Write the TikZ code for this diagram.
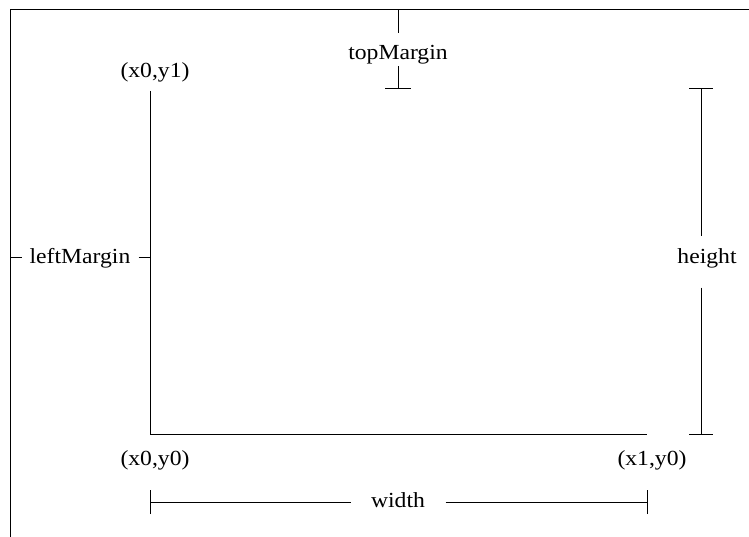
\documentclass[tikz,border=0pt]{standalone}
\usepackage{fontspec}
\setmainfont[FakeStretch=1.1]{Liberation Serif}
\usetikzlibrary{positioning,calc}

\begin{document}
\begin{tikzpicture}[x=1pt, y=-1pt, line width=1pt,
    lbl/.style={inner sep=0pt, anchor=base, font=\fontsize{21.5}{26}\selectfont}]
    \useasboundingbox (0,0) rectangle (749,537);

    % Page edge
    \coordinate (pageTL) at (10,10);
    \coordinate (pageTR) at (749,10);
    \coordinate (pageBL) at (10,537);
    \draw (pageTR) -- (pageTL) -- (pageBL);

    % Plot area axes
    \coordinate (yTop) at (150,91);
    \coordinate (origin) at (150,434);
    \coordinate (xEnd) at (647,434);
    \draw (yTop) -- (origin) -- (xEnd);
    \node[lbl] (x0y1) at (155,78) {(x0,y1)};
    \node[lbl] (x0y0) at (155,465) {(x0,y0)};
    \node[lbl] (x1y0) at (652,465) {(x1,y0)};

    % topMargin
    \coordinate (tmTop) at (398,10);
    \coordinate (tmBot) at (398,89);
    \node[lbl, text height=26pt, text depth=6pt] (topM) at (398,60) {topMargin};
    \draw (tmTop) -- (tmTop |- topM.north);
    \draw (tmTop |- topM.south) -- (tmBot);
    \draw ([xshift=-13pt]tmBot) -- ([xshift=13pt]tmBot);

    % leftMargin
    \coordinate (lmL) at (10,258);
    \coordinate (lmR) at (150,258);
    \node[lbl, minimum width=116pt] (leftM) at (80,264) {leftMargin};
    \draw (lmL) -- (lmL -| leftM.west);
    \draw (leftM.east |- lmR) -- (lmR);

    % height
    \coordinate (hTop) at (701,89);
    \coordinate (hBot) at (701,434);
    \node[lbl, text height=27pt, text depth=23pt] (hgt) at (707,264) {height};
    \draw (hTop) -- (hTop |- hgt.north);
    \draw (hTop |- hgt.south) -- (hBot);
    \draw ([xshift=-12pt]hTop) -- ([xshift=12pt]hTop);
    \draw ([xshift=-12pt]hBot) -- ([xshift=12pt]hBot);

    % width
    \coordinate (wL) at (150,502);
    \coordinate (wR) at (647,502);
    \node[lbl, minimum width=94pt] (wid) at (398,507) {width};
    \draw (wL) -- (wL -| wid.west);
    \draw (wid.east |- wR) -- (wR);
    \draw ([yshift=-12pt]wL) -- ([yshift=12pt]wL);
    \draw ([yshift=-12pt]wR) -- ([yshift=12pt]wR);
\end{tikzpicture}
\end{document}
